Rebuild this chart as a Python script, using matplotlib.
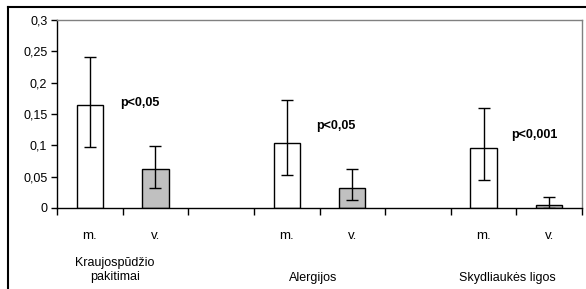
import matplotlib.pyplot as plt
from matplotlib.lines import Line2D
from matplotlib.ticker import FuncFormatter

plt.rcParams['font.family'] = ['Liberation Sans', 'DejaVu Sans']

# duomenys
grupes = ['Kraujospūdžio\npakitimai', 'Alergijos', 'Skydliaukės ligos']
lytis = ['m.', 'v.']
vyrai = [0.164, 0.104, 0.095]
vyrai_apatine = [0.097, 0.053, 0.045]
vyrai_virsutine = [0.241, 0.173, 0.160]
moterys = [0.062, 0.032, 0.005]
moterys_apatine = [0.032, 0.012, 0.0]
moterys_virsutine = [0.099, 0.062, 0.018]
p_reiksmes = ['p<0,05', 'p<0,05', 'p<0,001']
p_aukstis = [0.168, 0.131, 0.117]

fig = plt.figure(figsize=(5.86, 2.89), dpi=100)
W, H = 586, 289
ax = fig.add_axes([57 / W, 1 - 208 / H, 525 / W, 188 / H])

# remelis aplink diagrama
fig.add_artist(Line2D([8 / W, 1], [1 - 7 / H, 1 - 7 / H], color='black', lw=1.5))
fig.add_artist(Line2D([8 / W, 8 / W], [0, 1 - 7 / H], color='black', lw=1.5))

plotis = 0.4
for i in range(3):
    xm = 3 * i + 0.5
    xv = 3 * i + 1.5
    ax.bar(xm, vyrai[i], width=plotis, color='white', edgecolor='black', lw=1, zorder=2)
    ax.bar(xv, moterys[i], width=plotis, color='#c0c0c0', edgecolor='black', lw=1, zorder=2)
    ax.errorbar(xm, vyrai[i],
                yerr=[[vyrai[i] - vyrai_apatine[i]], [vyrai_virsutine[i] - vyrai[i]]],
                fmt='none', ecolor='black', elinewidth=1, capsize=4, capthick=1, zorder=3)
    ax.errorbar(xv, moterys[i],
                yerr=[[moterys[i] - moterys_apatine[i]], [moterys_virsutine[i] - moterys[i]]],
                fmt='none', ecolor='black', elinewidth=1, capsize=4, capthick=1, zorder=3)

# p reiksmes
p_x = [0.96, 3.95, 6.92]
for x, y, t in zip(p_x, p_aukstis, p_reiksmes):
    ax.text(x, y, t, fontsize=9, fontweight='bold', ha='left', va='center')

ax.set_xlim(0, 8)
ax.set_ylim(0, 0.3)
ax.set_yticks([0, 0.05, 0.1, 0.15, 0.2, 0.25, 0.3])
ax.yaxis.set_major_formatter(FuncFormatter(lambda v, _: ('%g' % round(v, 2)).replace('.', ',')))
ax.tick_params(axis='y', direction='out', length=4, width=1, labelsize=9, pad=3)

ax.set_xticks(range(9))
ax.set_xticklabels([])
ax.tick_params(axis='x', which='major', direction='out', length=5, width=1)
centrai = [0.5, 1.5, 3.5, 4.5, 6.5, 7.5]
ax.set_xticks(centrai, minor=True)
ax.set_xticklabels(lytis * 3, minor=True, fontsize=9.5)
ax.tick_params(axis='x', which='minor', length=0, pad=16)

grupiu_x = [0.88, 3.9, 6.86]
grupiu_y = [-0.33, -0.372, -0.372]
for x, y, g in zip(grupiu_x, grupiu_y, grupes):
    ax.text(x, y, g, fontsize=9, ha='center', va='center', linespacing=1.3,
            transform=ax.get_xaxis_transform())

for s in ['left', 'bottom']:
    ax.spines[s].set_color('black')
    ax.spines[s].set_linewidth(1)
for s in ['top', 'right']:
    ax.spines[s].set_color('#808080')
    ax.spines[s].set_linewidth(1)

fig.savefig('out.png', dpi=100)
